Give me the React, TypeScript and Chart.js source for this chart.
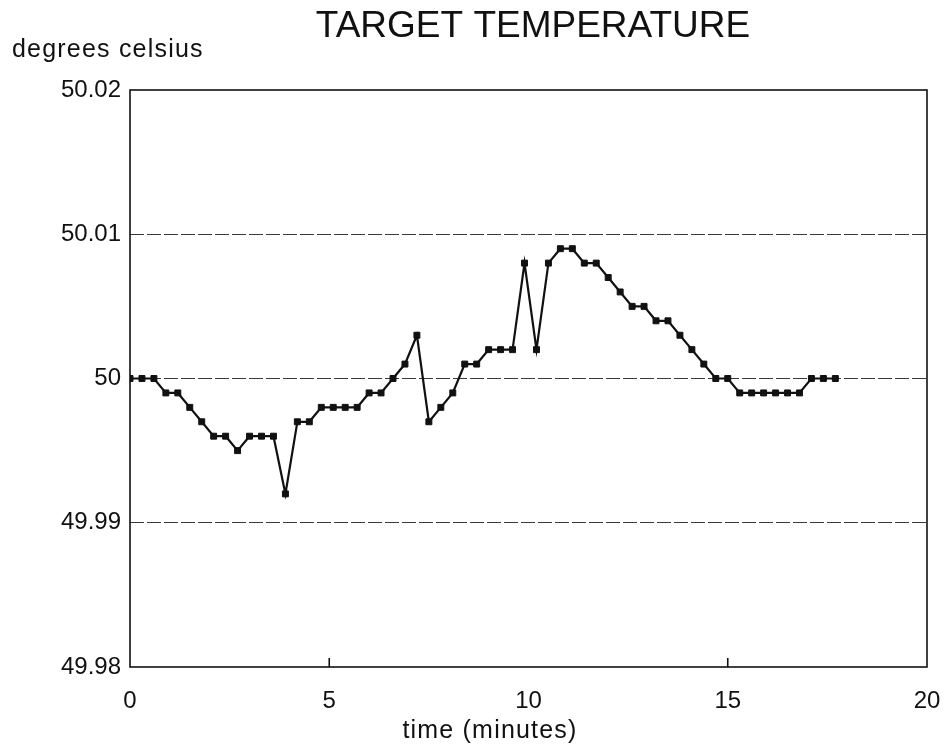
import React, { useEffect, useRef } from "react";
import { Chart, registerables } from "chart.js";

Chart.register(...registerables);

const timeMinutes = [
  0, 0.3, 0.6, 0.9, 1.2, 1.5, 1.8, 2.1, 2.4, 2.7,
  3.0, 3.3, 3.6, 3.9, 4.2, 4.5, 4.8, 5.1, 5.4, 5.7,
  6.0, 6.3, 6.6, 6.9, 7.2, 7.5, 7.8, 8.1, 8.4, 8.7,
  9.0, 9.3, 9.6, 9.9, 10.2, 10.5, 10.8, 11.1, 11.4, 11.7,
  12.0, 12.3, 12.6, 12.9, 13.2, 13.5, 13.8, 14.1, 14.4, 14.7,
  15.0, 15.3, 15.6, 15.9, 16.2, 16.5, 16.8, 17.1, 17.4, 17.7,
];

const temperature = [
  50.0, 50.0, 50.0, 49.999, 49.999, 49.998, 49.997, 49.996, 49.996, 49.995,
  49.996, 49.996, 49.996, 49.992, 49.997, 49.997, 49.998, 49.998, 49.998, 49.998,
  49.999, 49.999, 50.0, 50.001, 50.003, 49.997, 49.998, 49.999, 50.001, 50.001,
  50.002, 50.002, 50.002, 50.008, 50.002, 50.008, 50.009, 50.009, 50.008, 50.008,
  50.007, 50.006, 50.005, 50.005, 50.004, 50.004, 50.003, 50.002, 50.001, 50.0,
  50.0, 49.999, 49.999, 49.999, 49.999, 49.999, 49.999, 50.0, 50.0, 50.0,
];

const yTickValues = [49.98, 49.99, 50, 50.01, 50.02];
const yTickLabels = ["49.98", "49.99", "50", "50.01", "50.02"];
const yGridValues = [49.99, 50, 50.01];
const xTickValues = [0, 5, 10, 15, 20];
const xTickLabels = ["0", "5", "10", "15", "20"];
const innerTickMarks = [5, 15];

const titleText = "TARGET TEMPERATURE";
const yAxisTitle = "degrees celsius";
const xAxisTitle = "time (minutes)";

const FONT = '"Liberation Sans", Arial, Helvetica, sans-serif';
const INK = "#111111";

const decorPlugin = {
  id: "decor",
  beforeDatasetsDraw(chart: any) {
    const { ctx, chartArea: a, scales } = chart;
    ctx.save();
    ctx.strokeStyle = INK;
    ctx.lineWidth = 1.6;
    ctx.setLineDash([]);
    ctx.strokeRect(a.left, a.top, a.right - a.left, a.bottom - a.top);
    innerTickMarks.forEach((v) => {
      const x = scales.x.getPixelForValue(v);
      ctx.beginPath();
      ctx.moveTo(x, a.bottom);
      ctx.lineTo(x, a.bottom - 9);
      ctx.stroke();
    });
    ctx.restore();
  },
  afterDraw(chart: any) {
    const { ctx } = chart;
    ctx.save();
    ctx.fillStyle = INK;
    ctx.textBaseline = "alphabetic";
    ctx.font = `37px ${FONT}`;
    (ctx as any).letterSpacing = "0px";
    ctx.textAlign = "center";
    ctx.fillText(titleText, 533, 37);
    ctx.font = `25px ${FONT}`;
    (ctx as any).letterSpacing = "1.2px";
    ctx.textAlign = "left";
    ctx.fillText(yAxisTitle, 12, 57);
    ctx.textAlign = "center";
    ctx.fillText(xAxisTitle, 490, 738);
    ctx.restore();
  },
};

export default function App() {
  const canvasRef = useRef<HTMLCanvasElement | null>(null);

  useEffect(() => {
    const canvas = canvasRef.current;
    if (!canvas) return;
    const points = timeMinutes.map((t, i) => ({ x: t, y: temperature[i] }));
    const chart = new Chart(canvas, {
      type: "line",
      data: {
        datasets: [
          {
            data: points,
            borderColor: INK,
            borderWidth: 2.2,
            backgroundColor: INK,
            pointStyle: "rect",
            pointRadius: 4.2,
            pointBorderWidth: 1,
            pointBackgroundColor: INK,
            pointBorderColor: INK,
            tension: 0,
            fill: false,
          },
        ],
      },
      options: {
        animation: false,
        responsive: false,
        devicePixelRatio: 1,
        layout: { padding: { left: 0, right: 18, top: 90, bottom: 0 } },
        plugins: {
          legend: { display: false },
          title: { display: false },
          tooltip: { enabled: false },
        },
        scales: {
          x: {
            type: "linear",
            min: 0,
            max: 20,
            afterBuildTicks: (scale: any) => {
              scale.ticks = xTickValues.map((v) => ({ value: v }));
            },
            afterFit: (scale: any) => {
              scale.height = 83;
              scale.paddingLeft = 0;
              scale.paddingRight = 0;
            },
            grid: { display: false, drawTicks: false },
            border: { display: false },
            ticks: {
              autoSkip: false,
              maxRotation: 0,
              padding: 20,
              color: INK,
              font: { family: FONT, size: 24 },
              callback: (_v: any, i: number) => xTickLabels[i],
            },
          },
          y: {
            type: "linear",
            min: 49.98,
            max: 50.02,
            afterBuildTicks: (scale: any) => {
              scale.ticks = yTickValues.map((v) => ({ value: v }));
            },
            afterFit: (scale: any) => {
              scale.width = 130;
              scale.paddingTop = 0;
              scale.paddingBottom = 0;
            },
            grid: {
              drawTicks: false,
              lineWidth: 1,
              color: (c: any) =>
                yGridValues.some((g) => Math.abs(g - c.tick.value) < 1e-6)
                  ? "#3a3a3a"
                  : "rgba(0,0,0,0)",
            },
            border: { display: false, dash: [14, 3] },
            ticks: {
              autoSkip: false,
              padding: 9,
              color: INK,
              font: { family: FONT, size: 24 },
              callback: (_v: any, i: number) => yTickLabels[i],
            },
          },
        },
      },
      plugins: [decorPlugin],
    });
    return () => chart.destroy();
  }, []);

  return (
    <div
      style={{
        position: "fixed",
        left: 0,
        top: 0,
        width: 945,
        height: 750,
        background: "#ffffff",
      }}
    >
      <canvas ref={canvasRef} width={945} height={750} />
    </div>
  );
}
